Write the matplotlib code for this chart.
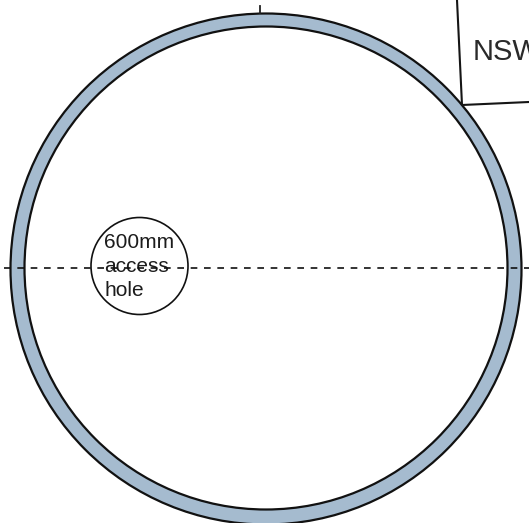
import matplotlib
matplotlib.use("Agg")
import matplotlib.pyplot as plt
from matplotlib.patches import Circle

# all sizes, in pixels
W, H = 529, 523
outer_c = (266, 269)
outer_r = 255.5
inner_c = (266, 268)
inner_r = 241.5
hole_c = (139.5, 266)
hole_r = 48.5
dash_x = [4, 529]
dash_y = [268, 268]
tick_x = [260, 260]
tick_y = [6, 13]
box_x = [457, 462, 529]
box_y = [0, 105, 102]
hole_lines = ["600mm", "access", "hole"]
hole_line_y = [243, 267, 290]

plt.rcParams['font.family'] = ['Liberation Sans', 'DejaVu Sans']

fig = plt.figure(figsize=(W / 100, H / 100), dpi=100)
ax = fig.add_axes([0, 0, 1, 1])
ax.set_xlim(0, W)
ax.set_ylim(H, 0)
ax.axis('off')

ax.plot(box_x, box_y, color='#151515', lw=1.5)

# ring: blue-grey disc with a white one on top
ax.add_patch(Circle(outer_c, outer_r, fc='#a5bbcf', ec='#111111', lw=1.6))
ax.add_patch(Circle(inner_c, inner_r, fc='white', ec='#111111', lw=1.6))

ax.plot(tick_x, tick_y, color='#222222', lw=1.3)
ax.text(473, 52, "NSW", fontsize=21, color='#2a2a2a', va='center', ha='left', clip_on=True)

ax.add_patch(Circle(hole_c, hole_r, fc='white', ec='#111111', lw=1.2, zorder=3))
for s, y in zip(hole_lines, hole_line_y):
    ax.text(104, y, s, fontsize=15, color='#1c1c1c', va='center', ha='left', zorder=4)

ax.plot(dash_x, dash_y, color='#111111', lw=1.2, dashes=(4, 4), zorder=5)

fig.savefig('out.png', dpi=100)
